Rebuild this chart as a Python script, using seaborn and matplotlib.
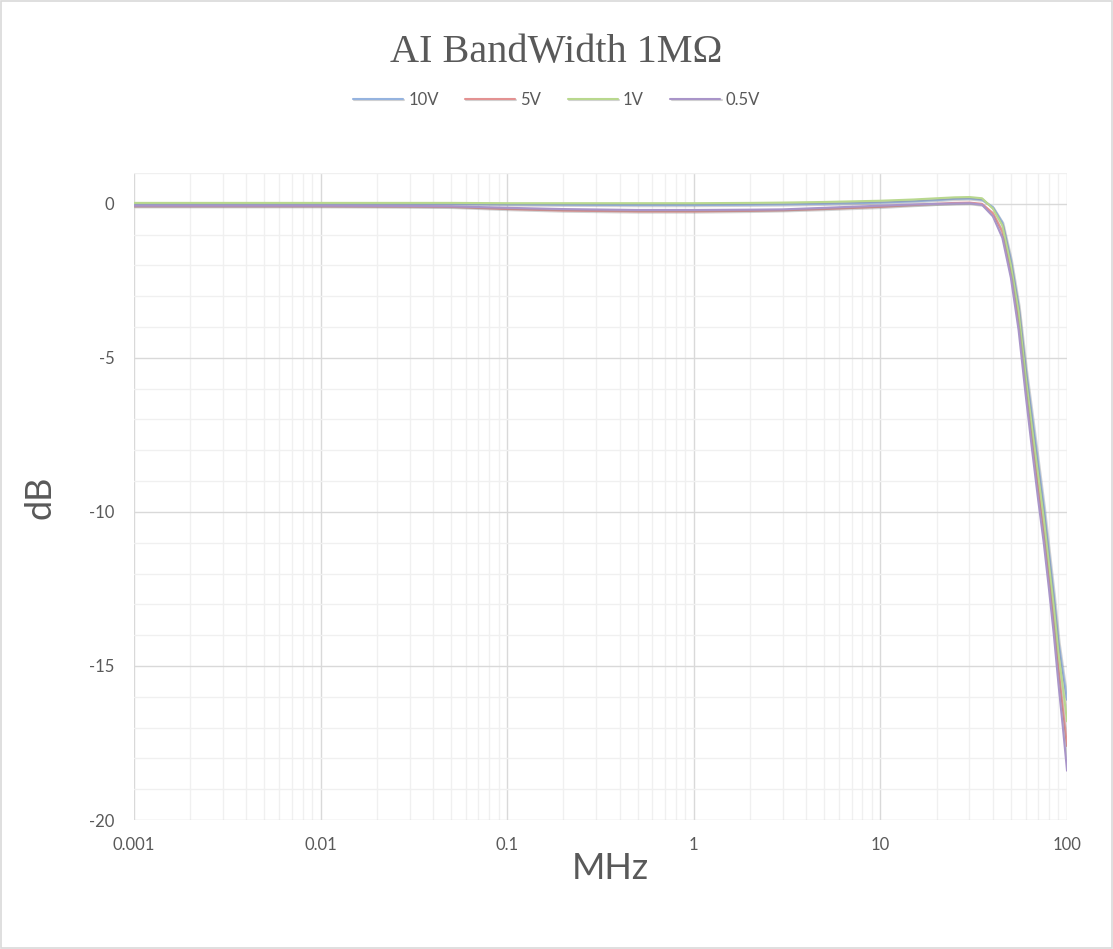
import numpy as np
import pandas as pd
import matplotlib
matplotlib.use("Agg")
import matplotlib.pyplot as plt
import matplotlib.patheffects as pe
from matplotlib.ticker import FixedLocator, FixedFormatter, LogLocator, MultipleLocator
import seaborn as sns

# Frecuencias (MHz) y respuesta (dB)
freq = [0.001, 0.003, 0.01, 0.03, 0.05, 0.1, 0.2, 0.5, 1, 2, 3, 5, 10, 15, 20, 25, 30, 35,
        40, 45, 50, 55, 60, 65, 70, 75, 80, 85, 90, 95, 100]

db_10v = [0.0, 0.0, 0.0, 0.0, -0.01, -0.02, -0.03, -0.04, -0.04, -0.03, -0.02, 0.0, 0.04, 0.08, 0.12, 0.16, 0.17, 0.13,
          -0.1, -0.6, -1.8, -3.3, -5.3, -6.9, -8.4, -9.8, -11.3, -12.7, -14.2, -15.2, -16.1]
db_5v = [-0.08, -0.08, -0.08, -0.09, -0.1, -0.17, -0.22, -0.25, -0.25, -0.23, -0.21, -0.17, -0.1, -0.04, 0.0, 0.03, 0.04, 0.0,
         -0.3, -0.9, -2.2, -3.8, -5.9, -7.6, -9.2, -10.6, -12.1, -13.6, -15.1, -16.4, -17.6]
db_1v = [0.03, 0.03, 0.03, 0.03, 0.03, 0.02, 0.02, 0.02, 0.02, 0.03, 0.04, 0.06, 0.1, 0.14, 0.18, 0.21, 0.22, 0.18,
         -0.15, -0.7, -2.0, -3.5, -5.6, -7.3, -8.8, -10.2, -11.7, -13.1, -14.6, -15.7, -16.8]
db_05v = [-0.06, -0.06, -0.06, -0.07, -0.08, -0.13, -0.17, -0.2, -0.2, -0.19, -0.18, -0.13, -0.06, -0.02, 0.0, 0.01, 0.02, -0.03,
          -0.4, -1.1, -2.4, -4.1, -6.2, -8.0, -9.6, -11.0, -12.5, -14.0, -15.6, -17.0, -18.4]

series = ["10V", "5V", "1V", "0.5V"]
colores = ["#95b3df", "#e39292", "#b9d88e", "#a995c9"]

x_ticks = [0.001, 0.01, 0.1, 1, 10, 100]
x_labels = ["0.001", "0.01", "0.1", "1", "10", "100"]
y_ticks = [0, -5, -10, -15, -20]
y_labels = ["0", "-5", "-10", "-15", "-20"]

# Tabla larga para seaborn
data = pd.concat([
    pd.DataFrame({"MHz": freq, "dB": vals, "serie": name})
    for name, vals in zip(series, [db_10v, db_5v, db_1v, db_05v])
])

sns.set_style("white")
plt.rcParams["font.family"] = ["Lato", "DejaVu Sans"]
plt.rcParams["axes.unicode_minus"] = False

gris = "#595959"
fig = plt.figure(figsize=(11.13, 9.49), dpi=100)
ax = fig.add_axes([0.1204, 0.1359, 0.8383, 0.6818])

sns.lineplot(data=data, x="MHz", y="dB", hue="serie", palette=colores, hue_order=series,
             linewidth=1.5, ax=ax, sort=False)

sombra = [pe.SimpleLineShadow(offset=(0.8, -0.8), shadow_color="#7f7f7f", alpha=0.35), pe.Normal()]
for line in ax.get_lines():
    line.set_path_effects(sombra)

ax.set_xscale("log")
ax.set_xlim(0.001, 100)
ax.set_ylim(-20, 1)

ax.xaxis.set_major_locator(FixedLocator(x_ticks))
ax.xaxis.set_major_formatter(FixedFormatter(x_labels))
ax.xaxis.set_minor_locator(LogLocator(base=10, subs=np.arange(2, 10)))
ax.yaxis.set_major_locator(FixedLocator(y_ticks))
ax.yaxis.set_major_formatter(FixedFormatter(y_labels))
ax.yaxis.set_minor_locator(MultipleLocator(1))

ax.grid(which="major", color="#d9d9d9", linewidth=1.0)
ax.grid(which="minor", color="#f0f0f0", linewidth=1.0)
ax.set_axisbelow(True)
for s in ax.spines.values():
    s.set_visible(False)

ax.tick_params(which="both", length=0, labelsize=12, labelcolor=gris)
ax.tick_params(axis="x", pad=12)
ax.tick_params(axis="y", pad=14)

ax.set_xlabel("")
ax.set_ylabel("")
fig.text(0.548, 0.085, "MHz", ha="center", va="center", fontsize=26, color=gris)
fig.text(0.036, 0.476, "dB", ha="center", va="center", fontsize=26, color=gris, rotation=90)
fig.text(0.5, 0.945, "AI BandWidth 1M\u03a9", ha="center", va="center", fontsize=29,
         color=gris, family=["Liberation Serif", "DejaVu Serif"])

handles, labels = ax.get_legend_handles_labels()
ax.legend(handles, labels, loc="center", bbox_to_anchor=(0.5, 0.895), bbox_transform=fig.transFigure,
          ncol=4, frameon=False, fontsize=12, labelcolor=gris, handlelength=3.0,
          columnspacing=1.6, handletextpad=0.3)

# Borde exterior del grafico
fig.patches.append(plt.Rectangle((0.001, 0.001), 0.998, 0.998, transform=fig.transFigure,
                                 fill=False, edgecolor="#d9d9d9", linewidth=1.2))

plt.savefig("out.png", dpi=100)
